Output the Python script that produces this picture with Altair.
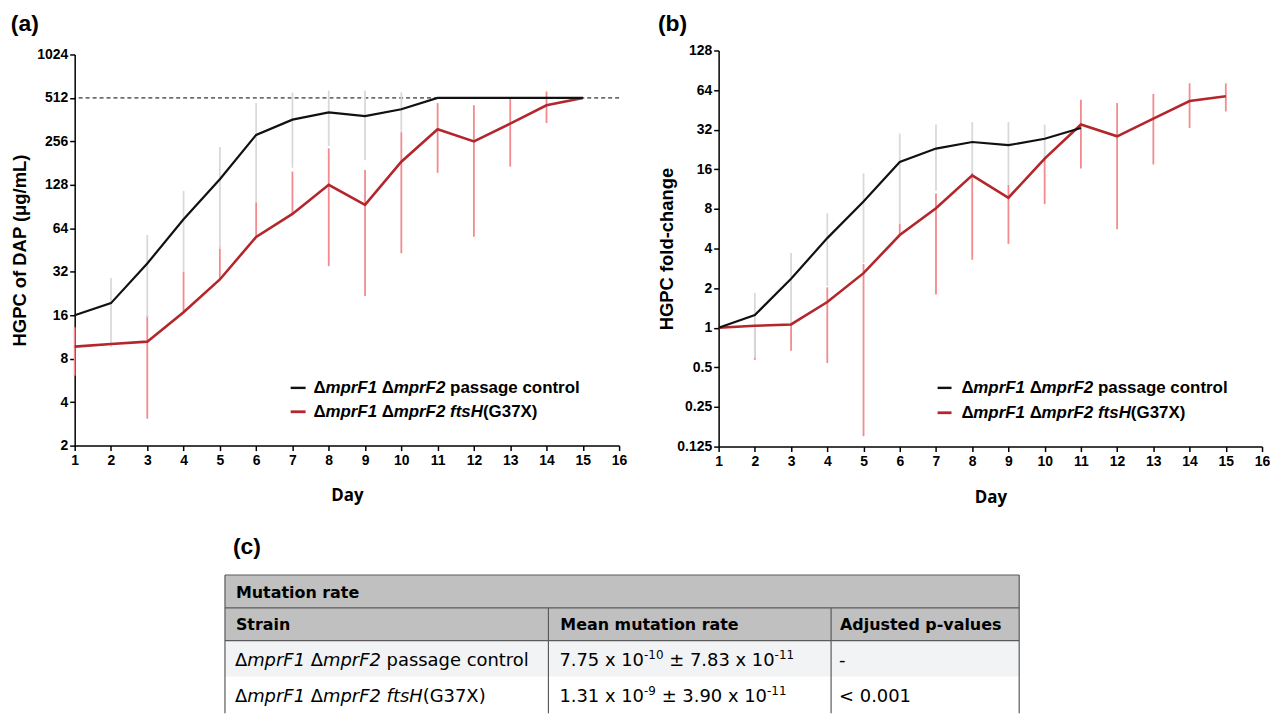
import re
import altair as alt
import pandas as pd

# ---------------- data ----------------
days = list(range(1, 16))

# (a) HGPC of DAP (ug/mL): mean line and visible error-bar extents
a_ctrl_mean = [16, 19.4, 36.5, 74, 140, 284, 362, 407, 383, 427, 512, 512, 512, 512, 512]
a_ctrl_lo = [None, 9.6, 15.5, 32, 46, 97, 168, 238, 190, 294, None, None, None, None, None]
a_ctrl_hi = [None, 29, 57.6, 116, 234, 471, 556, 576, 576, 560, None, None, None, None, None]
a_fts_mean = [9.7, 10.1, 10.5, 16.8, 28.3, 55.8, 80.5, 128, 93, 185, 311, 256, 340, 455, 512]
a_fts_lo = [6.1, None, 3.07, 16.8, 28.3, 55.8, 80.5, 35, 21.7, 43, 155, 56, 171, 343, None]
a_fts_hi = [13.2, None, 16, 32, 48.5, 97, 158, 229, 162, 298, 471, 455, 512, 568, None]
a_reference = 512

# (b) HGPC fold-change
b_ctrl_mean = [1, 1.25, 2.36, 4.8, 9.1, 18.2, 23, 25.8, 24.4, 27.3, 33, None, None, None, None]
b_ctrl_lo = [None, 0.59, 1.06, 2.08, 3.1, 6.2, 11, 15, 12.2, 19.6, None, None, None, None, None]
b_ctrl_hi = [None, 1.84, 3.7, 7.4, 14.9, 29.9, 35, 36.6, 36.6, 35, None, None, None, None, None]
b_fts_mean = [1, 1.035, 1.06, 1.57, 2.6, 5.07, 8.1, 14.4, 9.73, 19.3, 35, 28.5, 38.8, 52.8, 57.5]
b_fts_lo = [None, 0.57, 0.67, 0.54, 0.15, 5.07, 1.79, 3.29, 4.34, 8.7, 16.2, 5.6, 17.4, 33, 44]
b_fts_hi = [None, 1.035, 1.06, 2.03, 3.05, 6.2, 10.5, 15, 12.2, 19.3, 54, 51, 59.9, 72, 72]

a_ticks = [2, 4, 8, 16, 32, 64, 128, 256, 512, 1024]
b_ticks = [0.125, 0.25, 0.5, 1, 2, 4, 8, 16, 32, 64, 128]
x_ticks = list(range(1, 17))

series_names = ["\u0394mprF1 \u0394mprF2 passage control", "\u0394mprF1 \u0394mprF2 ftsH(G37X)"]
italic_words = ["mprF1", "mprF2", "ftsH"]

# (c) table
table_title = "Mutation rate"
table_headers = ["Strain", "Mean mutation rate", "Adjusted p-values"]
rate_mean = ["7.75", "1.31"]
rate_mean_exp = ["-10", "-9"]
rate_sd = ["7.83", "3.90"]
rate_sd_exp = ["-11", "-11"]
p_values = ["-", "< 0.001"]

# ---------------- styling ----------------
BLACK = "#111111"
RED = "#b3262c"
GRAY_BAR = "#d9d9d9"
RED_BAR = "#f28a8e"
LAB_FONT = "Liberation Sans"
TAB_FONT = "DejaVu Sans"

ARIAL_BOLD = {' ': .278, '(': .333, ')': .333, 'A': .722, 'D': .722, 'F': .611, 'G': .778,
              'H': .722, 'X': .667, '\u0394': .70, 'a': .556, 'c': .556, 'e': .556, 'f': .333,
              'g': .611, 'h': .611, 'l': .278, 'm': .889, 'n': .611, 'o': .611, 'p': .611,
              'r': .389, 's': .556, 't': .333}
for d in "0123456789":
    ARIAL_BOLD[d] = .556

DJV = {' ': .318, '.': .318, 'x': .592, '\u00b1': .838, '-': .361, '<': .838, '\u0394': .684,
       'm': .974, 'p': .635, 'r': .411, 'F': .575, 'a': .613, 's': .521, 'g': .635, 'e': .615,
       'c': .550, 'o': .612, 'n': .634, 't': .392, 'l': .278, 'f': .352, 'h': .634, 'H': .752,
       '(': .390, ')': .390, 'G': .775, 'X': .686}
for d in "0123456789":
    DJV[d] = .636


def split_italic(s):
    parts = re.split("(" + "|".join(italic_words) + ")", s)
    return [(p, "i" if p in italic_words else "n") for p in parts if p]


def layout_segments(segs, x0, widths, default_size):
    """segs: list of (text, style[, size]) -> list of (x, text, style, size)."""
    out = []
    x = x0
    for seg in segs:
        t, st = seg[0], seg[1]
        size = seg[2] if len(seg) > 2 else default_size
        lead = len(t) - len(t.lstrip(' '))
        x += lead * widths[' '] * size
        core = t.strip(' ')
        if core:
            out.append((x, core, st, size))
            x += sum(widths.get(c, 0.6) for c in core) * size
            trail = len(t) - len(t.rstrip(' '))
            x += trail * widths[' '] * size
    return out


def one_row():
    return pd.DataFrame({"k": [0]})


def panel(ctrl, fts, ydomain, yticks, ytitle, label, width, height, top_gap, leg,
          ytitle_pad, xtitle_pad, title_offset, ref=None):
    xs = alt.Scale(domain=[1, 16], nice=False, zero=False)
    ys = alt.Scale(type="log", base=2, domain=ydomain, nice=False, range=[height, top_gap])
    xax = alt.Axis(values=x_ticks, title="Day", format="d", labelFlush=False,
                   titlePadding=xtitle_pad, labelPadding=3)
    yax = alt.Axis(values=yticks, title=ytitle, format="~g", labelFlush=False,
                   titlePadding=ytitle_pad)
    X = alt.X("day:Q", scale=xs, axis=xax)

    def Y(f):
        return alt.Y(f + ":Q", scale=ys, axis=yax)

    def frame(mean, lo, hi):
        return pd.DataFrame({"day": days, "mean": mean, "lo": lo, "hi": hi})

    cdf = frame(*ctrl)
    fdf = frame(*fts)
    layers = []
    if ref is not None:
        layers.append(alt.Chart(pd.DataFrame({"v": [ref]})).mark_rule(
            color="black", strokeDash=[4, 3], strokeWidth=1).encode(y=Y("v")))
    layers.append(alt.Chart(fdf.dropna(subset=["lo", "hi"])).mark_rule(
        color=RED_BAR, strokeWidth=1.8).encode(x=X, y=Y("lo"), y2="hi"))
    layers.append(alt.Chart(cdf.dropna(subset=["lo", "hi"])).mark_rule(
        color=GRAY_BAR, strokeWidth=1.8).encode(x=X, y=Y("lo"), y2="hi"))
    layers.append(alt.Chart(fdf.dropna(subset=["mean"])).mark_line(
        color=RED, strokeWidth=2.6).encode(x=X, y=Y("mean")))
    layers.append(alt.Chart(cdf.dropna(subset=["mean"])).mark_line(
        color=BLACK, strokeWidth=2.2).encode(x=X, y=Y("mean")))

    # legend
    for name, col, sw, yy in [(series_names[0], BLACK, 2.4, leg["y1"]),
                              (series_names[1], RED, 2.8, leg["y2"])]:
        layers.append(alt.Chart(one_row()).mark_rule(color=col, strokeWidth=sw).encode(
            x=alt.value(leg["x1"]), x2=alt.value(leg["x2"]), y=alt.value(yy)))
        for (sx, txt, st, size) in layout_segments(split_italic(name), leg["tx"], ARIAL_BOLD, 17):
            layers.append(alt.Chart(one_row()).mark_text(
                text=txt, font=LAB_FONT, fontSize=size, fontWeight="bold",
                fontStyle="italic" if st == "i" else "normal", align="left",
                baseline="middle", color="black").encode(x=alt.value(sx), y=alt.value(yy)))

    return alt.layer(*layers).properties(
        width=width, height=height,
        title=alt.TitleParams(text=label, anchor="start", frame="bounds", font=LAB_FONT,
                              fontSize=23, fontWeight="bold", color="black",
                              offset=title_offset))


pa = panel((a_ctrl_mean, a_ctrl_lo, a_ctrl_hi), (a_fts_mean, a_fts_lo, a_fts_hi),
           [2, 1024], a_ticks, "HGPC of DAP (\u03bcg/mL)", "(a)", 547, 397, 4,
           dict(x1=217, x2=232, y1=339, y2=363, tx=240),
           ytitle_pad=7, xtitle_pad=20, title_offset=12, ref=a_reference)
pb = panel((b_ctrl_mean, b_ctrl_lo, b_ctrl_hi), (b_fts_mean, b_fts_lo, b_fts_hi),
           [0.125, 128], b_ticks, "HGPC fold-change", "(b)", 546, 398, 0,
           dict(x1=220, x2=234, y1=339, y2=364, tx=244),
           ytitle_pad=0, xtitle_pad=21, title_offset=8)

# ---------------- table (c) ----------------
TW, TH = 953, 183
col_edges = [151, 476, 760, 949]
row_edges = [44, 77, 110, 146, TH]
txs = alt.Scale(domain=[0, TW], nice=False, zero=False)
tys = alt.Scale(domain=[0, TH], nice=False, zero=False, reverse=True)
TX = lambda f: alt.X(f + ":Q", scale=txs, axis=None)
TY = lambda f: alt.Y(f + ":Q", scale=tys, axis=None)

rects = pd.DataFrame([
    dict(x=col_edges[0], x2=col_edges[3], y=row_edges[0], y2=row_edges[2], fill="#c0c0c0"),
    dict(x=col_edges[0], x2=col_edges[3], y=row_edges[2], y2=row_edges[3], fill="#f2f3f5"),
])
lines = pd.DataFrame([
    dict(x=col_edges[0], x2=col_edges[3], y=row_edges[0], y2=row_edges[0]),
    dict(x=col_edges[0], x2=col_edges[3], y=row_edges[1], y2=row_edges[1]),
    dict(x=col_edges[0], x2=col_edges[3], y=row_edges[2], y2=row_edges[2]),
    dict(x=col_edges[0], x2=col_edges[0], y=row_edges[0], y2=row_edges[4]),
    dict(x=col_edges[3], x2=col_edges[3], y=row_edges[0], y2=row_edges[4]),
    dict(x=col_edges[1], x2=col_edges[1], y=row_edges[1], y2=row_edges[4]),
    dict(x=col_edges[2], x2=col_edges[2], y=row_edges[1], y2=row_edges[4]),
])

text_centers = [62.5, 94.5, 130, 166.5]
col_text_x = [col_edges[0] + 10, col_edges[1] + 11, col_edges[2] + 8]
segs = []  # x, y, text, kind, size
segs.append(dict(x=col_text_x[0] + 1, y=text_centers[0], text=table_title, kind="b", size=16))
for cx, h in zip(col_text_x, table_headers):
    segs.append(dict(x=cx + 1, y=text_centers[1], text=h, kind="b", size=16))
for r in range(2):
    yy = text_centers[2 + r]
    for (sx, t, st, size) in layout_segments(split_italic(series_names[r]), col_text_x[0], DJV, 18):
        segs.append(dict(x=sx, y=yy, text=t, kind=st, size=size))
    rate_segs = [(rate_mean[r] + " x 10", "n"), (rate_mean_exp[r], "s", 12),
                 (" \u00b1 " + rate_sd[r] + " x 10", "n"), (rate_sd_exp[r], "s", 12)]
    for (sx, t, st, size) in layout_segments(rate_segs, col_text_x[1], DJV, 18):
        segs.append(dict(x=sx, y=yy - (6 if st == "s" else 0), text=t,
                         kind="n" if st == "s" else st, size=size))
    segs.append(dict(x=col_text_x[2], y=yy, text=p_values[r], kind="n", size=18))
segdf = pd.DataFrame(segs)

tlayers = [
    alt.Chart(rects).mark_rect().encode(x=TX("x"), x2="x2", y=TY("y"), y2="y2",
                                        color=alt.Color("fill:N", scale=None)),
    alt.Chart(lines).mark_rule(color="#5a5a5a", strokeWidth=1.2).encode(
        x=TX("x"), x2="x2", y=TY("y"), y2="y2"),
]
for kind, weight, style in [("b", "bold", "normal"), ("n", "normal", "normal"), ("i", "normal", "italic")]:
    tlayers.append(alt.Chart(segdf).transform_filter(alt.datum.kind == kind).mark_text(
        font=TAB_FONT, fontWeight=weight, fontStyle=style, align="left", baseline="middle",
        color="black").encode(x=TX("x"), y=TY("y"), text="text:N",
                              size=alt.Size("size:Q", scale=None)))
tlayers.append(alt.Chart(pd.DataFrame({"x": [159], "y": [16], "t": ["(c)"]})).mark_text(
    font=LAB_FONT, fontSize=23, fontWeight="bold", align="left", baseline="middle",
    color="black").encode(x=TX("x"), y=TY("y"), text="t:N"))
table = alt.layer(*tlayers).properties(width=TW, height=TH)

chart = alt.vconcat(
    alt.hconcat(pa, pb, spacing=30),
    table,
    spacing=26,
).properties(
    padding={"left": 2, "top": 3, "right": 0, "bottom": 0},
).configure_view(stroke=None).configure_axis(
    domainColor="black", domainWidth=1.5, tickColor="black", tickWidth=1.5, tickSize=5,
    labelColor="black", labelFont=LAB_FONT, labelFontWeight="bold", labelFontSize=14,
    labelPadding=2, titleColor="black", grid=False,
).configure_axisX(
    titleFont="Open Sans", titleFontSize=17, titleFontWeight="bold",
).configure_axisY(
    titleFont=LAB_FONT, titleFontSize=18.5, titleFontWeight="bold",
)

chart.save("out.html", embed_options={"renderer": "svg", "actions": False})
